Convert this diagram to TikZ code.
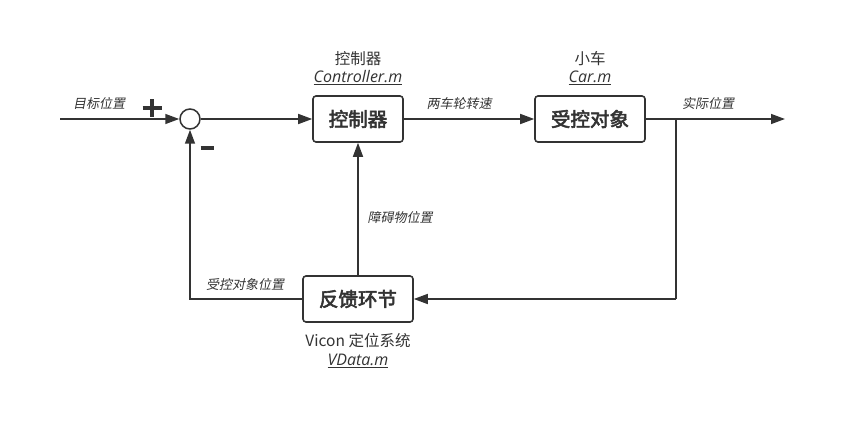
\documentclass[tikz,border=0pt]{standalone}
\usepackage{fontspec}
\setmainfont{Open Sans}
\newfontfamily\cjk{Noto Sans CJK SC}
\newfontfamily\cjksl[FakeSlant=0.2]{Noto Sans CJK SC}
\newfontfamily\cjkbf[FakeBold=3]{Noto Sans CJK SC}
\usetikzlibrary{arrows.meta}
\definecolor{ln}{HTML}{333333}
\tikzset{
  blk/.style={draw=ln, line width=1.6pt, rounded corners=3pt, minimum width=90pt, minimum height=46pt, inner sep=0pt, font=\cjkbf\fontsize{19.5}{20}\selectfont, text=ln},
  con/.style={draw=ln, line width=1.5pt, -{Triangle[length=14pt,width=10pt]}},
  ln2/.style={draw=ln, line width=1.5pt},
  lbl/.style={font=\cjksl\fontsize{13}{13}\selectfont, text=ln, inner sep=1pt},
  ttl/.style={font=\cjk\fontsize{15.5}{16}\selectfont, text=ln, inner sep=0pt},
  fil/.style={font=\fontsize{16}{16}\selectfont\itshape, text=ln, inner sep=0pt},
  sgn/.style={draw=ln, line width=3.2pt}
}
\begin{document}
\begin{tikzpicture}[x=1pt,y=-1pt]
\useasboundingbox (0,0) rectangle (844,433);
\coordinate (in) at (60,119);
\node[circle, draw=ln, line width=1.5pt, minimum size=20pt, inner sep=0pt] (sum) at (190,119) {};
\node[blk] (ctl) at (358,119) {控制器};
\node[blk, minimum width=110pt] (car) at (590,119) {受控对象};
\node[blk, minimum width=110pt] (fb) at (358,299) {反馈环节};
\coordinate (out) at (785,119);
\coordinate (br) at (676,119);
\coordinate (brd) at (676,299);
\coordinate (lft) at (190,299);

\draw[con] (in) -- (sum);
\draw[con] (sum) -- (ctl);
\draw[con] (ctl) -- (car);
\draw[con] (car) -- (out);
\draw[ln2] (br) -- (brd);
\draw[con] (brd) -- (fb.east);
\draw[con] (fb.north) -- (ctl.south);
\draw[con] (fb.west) -- (lft) -- (sum.south);

\coordinate (pc) at (152,108);
\draw[sgn] ([xshift=-9.5pt]pc) -- ([xshift=9.5pt]pc);
\draw[sgn] ([yshift=-9pt]pc) -- ([yshift=9pt]pc);
\coordinate (mc) at (207,148);
\draw[sgn] ([xshift=-6.5pt]mc) -- ([xshift=6.5pt]mc);

\node[lbl] (l1) at (99,104) {目标位置};
\node[lbl] (l2) at (459,104) {两车轮转速};
\node[lbl] (l3) at (708,104) {实际位置};
\node[lbl] (l4) at (400,218) {障碍物位置};
\node[lbl] (l5) at (245,285) {受控对象位置};

\node[ttl] (t1) at (358,59) {控制器};
\node[fil] (f1) at (358,78) {\underline{Controller.m}};
\node[ttl] (t2) at (590,59) {小车};
\node[fil] (f2) at (590,78) {\underline{Car.m}};
\node[ttl] (t3) at (358,341) {\fontsize{15.5}{16}\selectfont Vicon {\cjk 定位系统}};
\node[fil] (f3) at (358,361) {\underline{VData.m}};
\end{tikzpicture}
\end{document}
